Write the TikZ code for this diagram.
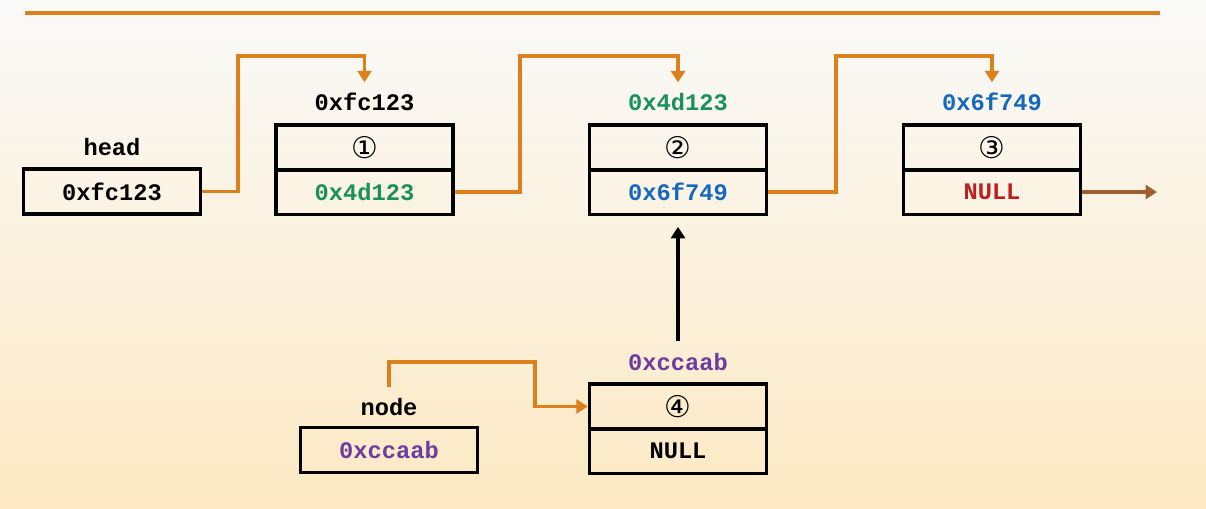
\documentclass[tikz,border=0pt]{standalone}
\usepackage{fontspec}
\setmonofont{Liberation Mono}
\newfontfamily\circfont{DejaVu Sans}
\usetikzlibrary{arrows.meta}
\definecolor{linkorange}{RGB}{220,128,30}
\definecolor{tailbrown}{RGB}{160,95,45}
\definecolor{addrgreen}{RGB}{25,145,90}
\definecolor{addrblue}{RGB}{20,105,190}
\definecolor{addrpurple}{RGB}{110,60,160}
\definecolor{nullred}{RGB}{190,30,30}
\tikzset{
  cell/.style={draw, line width=2.1pt, minimum width=3.54cm, minimum height=0.9cm,
    inner sep=0pt, font=\ttfamily\bfseries\fontsize{13.5}{16}\selectfont},
  addr/.style={inner sep=1pt, font=\ttfamily\bfseries\fontsize{13.5}{16}\selectfont},
  num/.style={font=\circfont\fontsize{17}{18}\selectfont},
  link/.style={draw=linkorange, line width=2pt, -{Triangle[width=8pt,length=6.5pt]}},
  ptr/.style={draw=black, line width=2pt, -{Triangle[width=8pt,length=6.5pt]}}
}
\begin{document}
\begin{tikzpicture}[x=0.02cm,y=-0.02cm]
  % background
  \shade[top color=white!96!gray, bottom color={rgb,255:red,252;green,233;blue,195}]
    (0,0) rectangle (1206,508);
  \draw[linkorange, line width=2pt] (25,13) -- (1160,13);
  % head pointer
  \node[addr] (headlbl) at (112,147) {head};
  \node[cell] (head) at (112,191.5) {0xfc123};
  % node 1
  \node[addr] (a1) at (364.5,102) {0xfc123};
  \node[cell, num] (c1a) at (364.5,147.5) {①};
  \node[cell, text=addrgreen] (c1b) at (364.5,192) {0x4d123};
  % node 2
  \node[addr, text=addrgreen] (a2) at (678,102) {0x4d123};
  \node[cell, num] (c2a) at (678,147.5) {②};
  \node[cell, text=addrblue] (c2b) at (678,192) {0x6f749};
  % node 3
  \node[addr, text=addrblue] (a3) at (992,102) {0x6f749};
  \node[cell, num] (c3a) at (992,147.5) {③};
  \node[cell, text=nullred] (c3b) at (992,192) {NULL};
  \coordinate (tail) at (1157,192);
  % new node
  \node[addr, text=addrpurple] (a4) at (678,362) {0xccaab};
  \node[cell, num] (c4a) at (678,406.5) {④};
  \node[cell] (c4b) at (678,451) {NULL};
  \node[addr] (nodelbl) at (389,407) {node};
  \node[cell, text=addrpurple] (nodevar) at (389,450) {0xccaab};
  % links
  \draw[link, shorten >=5pt] (head.east) -| (238,56) -| (a1.north);
  \draw[link, shorten >=5pt] (c1b.east) -| (520,56) -| (a2.north);
  \draw[link, shorten >=5pt] (c2b.east) -| (836,56) -| (a3.north);
  \draw[link, draw=tailbrown] (c3b.east) -- (tail);
  \draw[ptr, shorten <=6pt, shorten >=6pt] (a4.north) -- (c2b.south);
  \draw[link, shorten <=5pt] (nodelbl.north) |- (535,362) |- (c4a.west);
\end{tikzpicture}
\end{document}
